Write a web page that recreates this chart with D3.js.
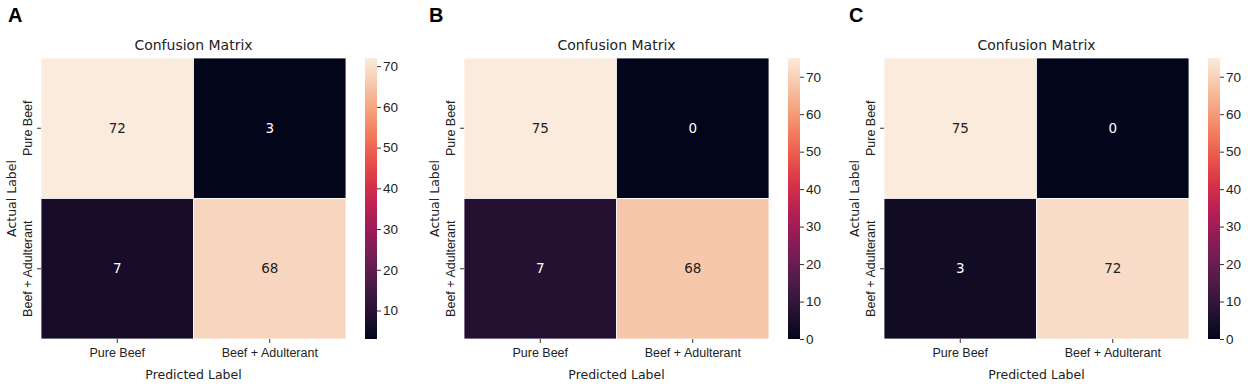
<!DOCTYPE html>
<html lang="en">
<head>
    <meta charset="UTF-8">
    <script src="https://cdn.jsdelivr.net/npm/d3@7"></script>
    <title>Confusion matrices</title>
    <style>
        * { margin: 0; padding: 0; box-sizing: border-box; }
        body { background: white; }
        svg { display: block; font-family: "DejaVu Sans", sans-serif; }
        .tick text { font-size: 12.5px; fill: #222; }
        .tick line { stroke: #333; }
        .cbar .tick text { font-size: 13.5px; }
    </style>
</head>
<body>
    <svg width="1248" height="387"></svg>
    <script>
        let classes = ['Pure Beef', 'Beef + Adulterant']
        let panelLetters = ['A', 'B', 'C']

        // rows = actual, cols = predicted
        let matrixA = [[72, 3], [7, 68]]
        let matrixB = [[75, 0], [7, 68]]
        let matrixC = [[75, 0], [3, 72]]

        let rangeA = [3, 72]
        let rangeB = [0, 75]
        let rangeC = [0, 75]

        let ticksA = [10, 20, 30, 40, 50, 60, 70]
        let ticksB = [0, 10, 20, 30, 40, 50, 60, 70]
        let ticksC = [0, 10, 20, 30, 40, 50, 60, 70]

        // seaborn "rocket" approximated with a few stops
        let rocket = d3.interpolateRgbBasis(['#03051a', '#35193e', '#701f57', '#ad1759', '#e13342', '#f37651', '#f6b48f', '#faebdd'])

        let svg = d3.select('svg')
        svg.append('rect').attr('width', 1248).attr('height', 387).attr('fill', 'white')

        let panels = [
            { letter: panelLetters[0], data: matrixA, dom: rangeA, ticks: ticksA, left: 41, letterX: 8 },
            { letter: panelLetters[1], data: matrixB, dom: rangeB, ticks: ticksB, left: 464, letterX: 429 },
            { letter: panelLetters[2], data: matrixC, dom: rangeC, ticks: ticksC, left: 884, letterX: 849 }
        ]

        let mapTop = 58, mapBottom = 339, mapWidth = 305

        panels.forEach(p => {
            let g = svg.append('g')

            let x = d3.scaleBand().domain(classes).range([p.left, p.left + mapWidth])
            let y = d3.scaleBand().domain(classes).range([mapTop, mapBottom])
            let color = d3.scaleSequential(rocket).domain(p.dom)

            let cells = []
            p.data.forEach((row, i) => row.forEach((v, j) => cells.push({ actual: classes[i], pred: classes[j], v })))

            g.selectAll('rect.cell')
                .data(cells)
                .join('rect')
                .attr('class', 'cell')
                .attr('x', d => x(d.pred))
                .attr('y', d => y(d.actual))
                .attr('width', x.bandwidth())
                .attr('height', y.bandwidth())
                .attr('fill', d => color(d.v))
                .attr('stroke', 'white')
                .attr('stroke-width', 0.8)

            g.selectAll('text.val')
                .data(cells)
                .join('text')
                .attr('class', 'val')
                .attr('x', d => x(d.pred) + x.bandwidth() / 2)
                .attr('y', d => y(d.actual) + y.bandwidth() / 2)
                .attr('dy', '0.35em')
                .attr('text-anchor', 'middle')
                .attr('font-size', 13.5)
                .attr('fill', d => (d.v - p.dom[0]) / (p.dom[1] - p.dom[0]) > 0.5 ? '#222' : 'white')
                .text(d => d.v)

            // axes
            let xAxis = g.append('g')
                .attr('transform', `translate(0, ${mapBottom})`)
                .call(d3.axisBottom(x).tickSize(4).tickPadding(5))
            xAxis.select('.domain').remove()

            let yAxis = g.append('g')
                .attr('transform', `translate(${p.left}, 0)`)
                .call(d3.axisLeft(y).tickSize(4).tickPadding(3))
            yAxis.select('.domain').remove()
            yAxis.selectAll('.tick text')
                .attr('transform', 'rotate(-90)')
                .attr('x', 0)
                .attr('y', -9)
                .attr('dy', 0)
                .attr('text-anchor', 'middle')

            g.append('text')
                .attr('x', p.left + mapWidth / 2)
                .attr('y', 50)
                .attr('text-anchor', 'middle')
                .attr('font-size', 14)
                .attr('fill', '#222')
                .text('Confusion Matrix')

            g.append('text')
                .attr('x', p.left + mapWidth / 2)
                .attr('y', 379)
                .attr('text-anchor', 'middle')
                .attr('font-size', 12.5)
                .attr('fill', '#222')
                .text('Predicted Label')

            g.append('text')
                .attr('transform', `translate(${p.left - 25}, ${(mapTop + mapBottom) / 2}) rotate(-90)`)
                .attr('text-anchor', 'middle')
                .attr('font-size', 12.5)
                .attr('fill', '#222')
                .text('Actual Label')

            g.append('text')
                .attr('x', p.letterX)
                .attr('y', 22)
                .attr('font-family', '"Liberation Sans", Arial, sans-serif')
                .attr('font-weight', 'bold')
                .attr('font-size', 20)
                .attr('fill', 'black')
                .text(p.letter)

            // colorbar
            let cbX = p.left + mapWidth + 19, cbW = 12
            let cy = d3.scaleLinear().domain(p.dom).range([mapBottom, mapTop])
            let gradId = 'grad' + p.letter
            let grad = svg.append('defs').append('linearGradient')
                .attr('id', gradId)
                .attr('x1', 0).attr('y1', 1).attr('x2', 0).attr('y2', 0)
            grad.selectAll('stop')
                .data(d3.range(0, 1.001, 0.05))
                .join('stop')
                .attr('offset', d => d)
                .attr('stop-color', d => rocket(d))

            g.append('rect')
                .attr('x', cbX)
                .attr('y', mapTop)
                .attr('width', cbW)
                .attr('height', mapBottom - mapTop)
                .attr('fill', `url(#${gradId})`)

            let cAxis = g.append('g')
                .attr('class', 'cbar')
                .attr('transform', `translate(${cbX + cbW}, 0)`)
                .call(d3.axisRight(cy).tickValues(p.ticks).tickSize(4).tickPadding(2))
            cAxis.select('.domain').remove()
        })
    </script>
</body>
</html>
